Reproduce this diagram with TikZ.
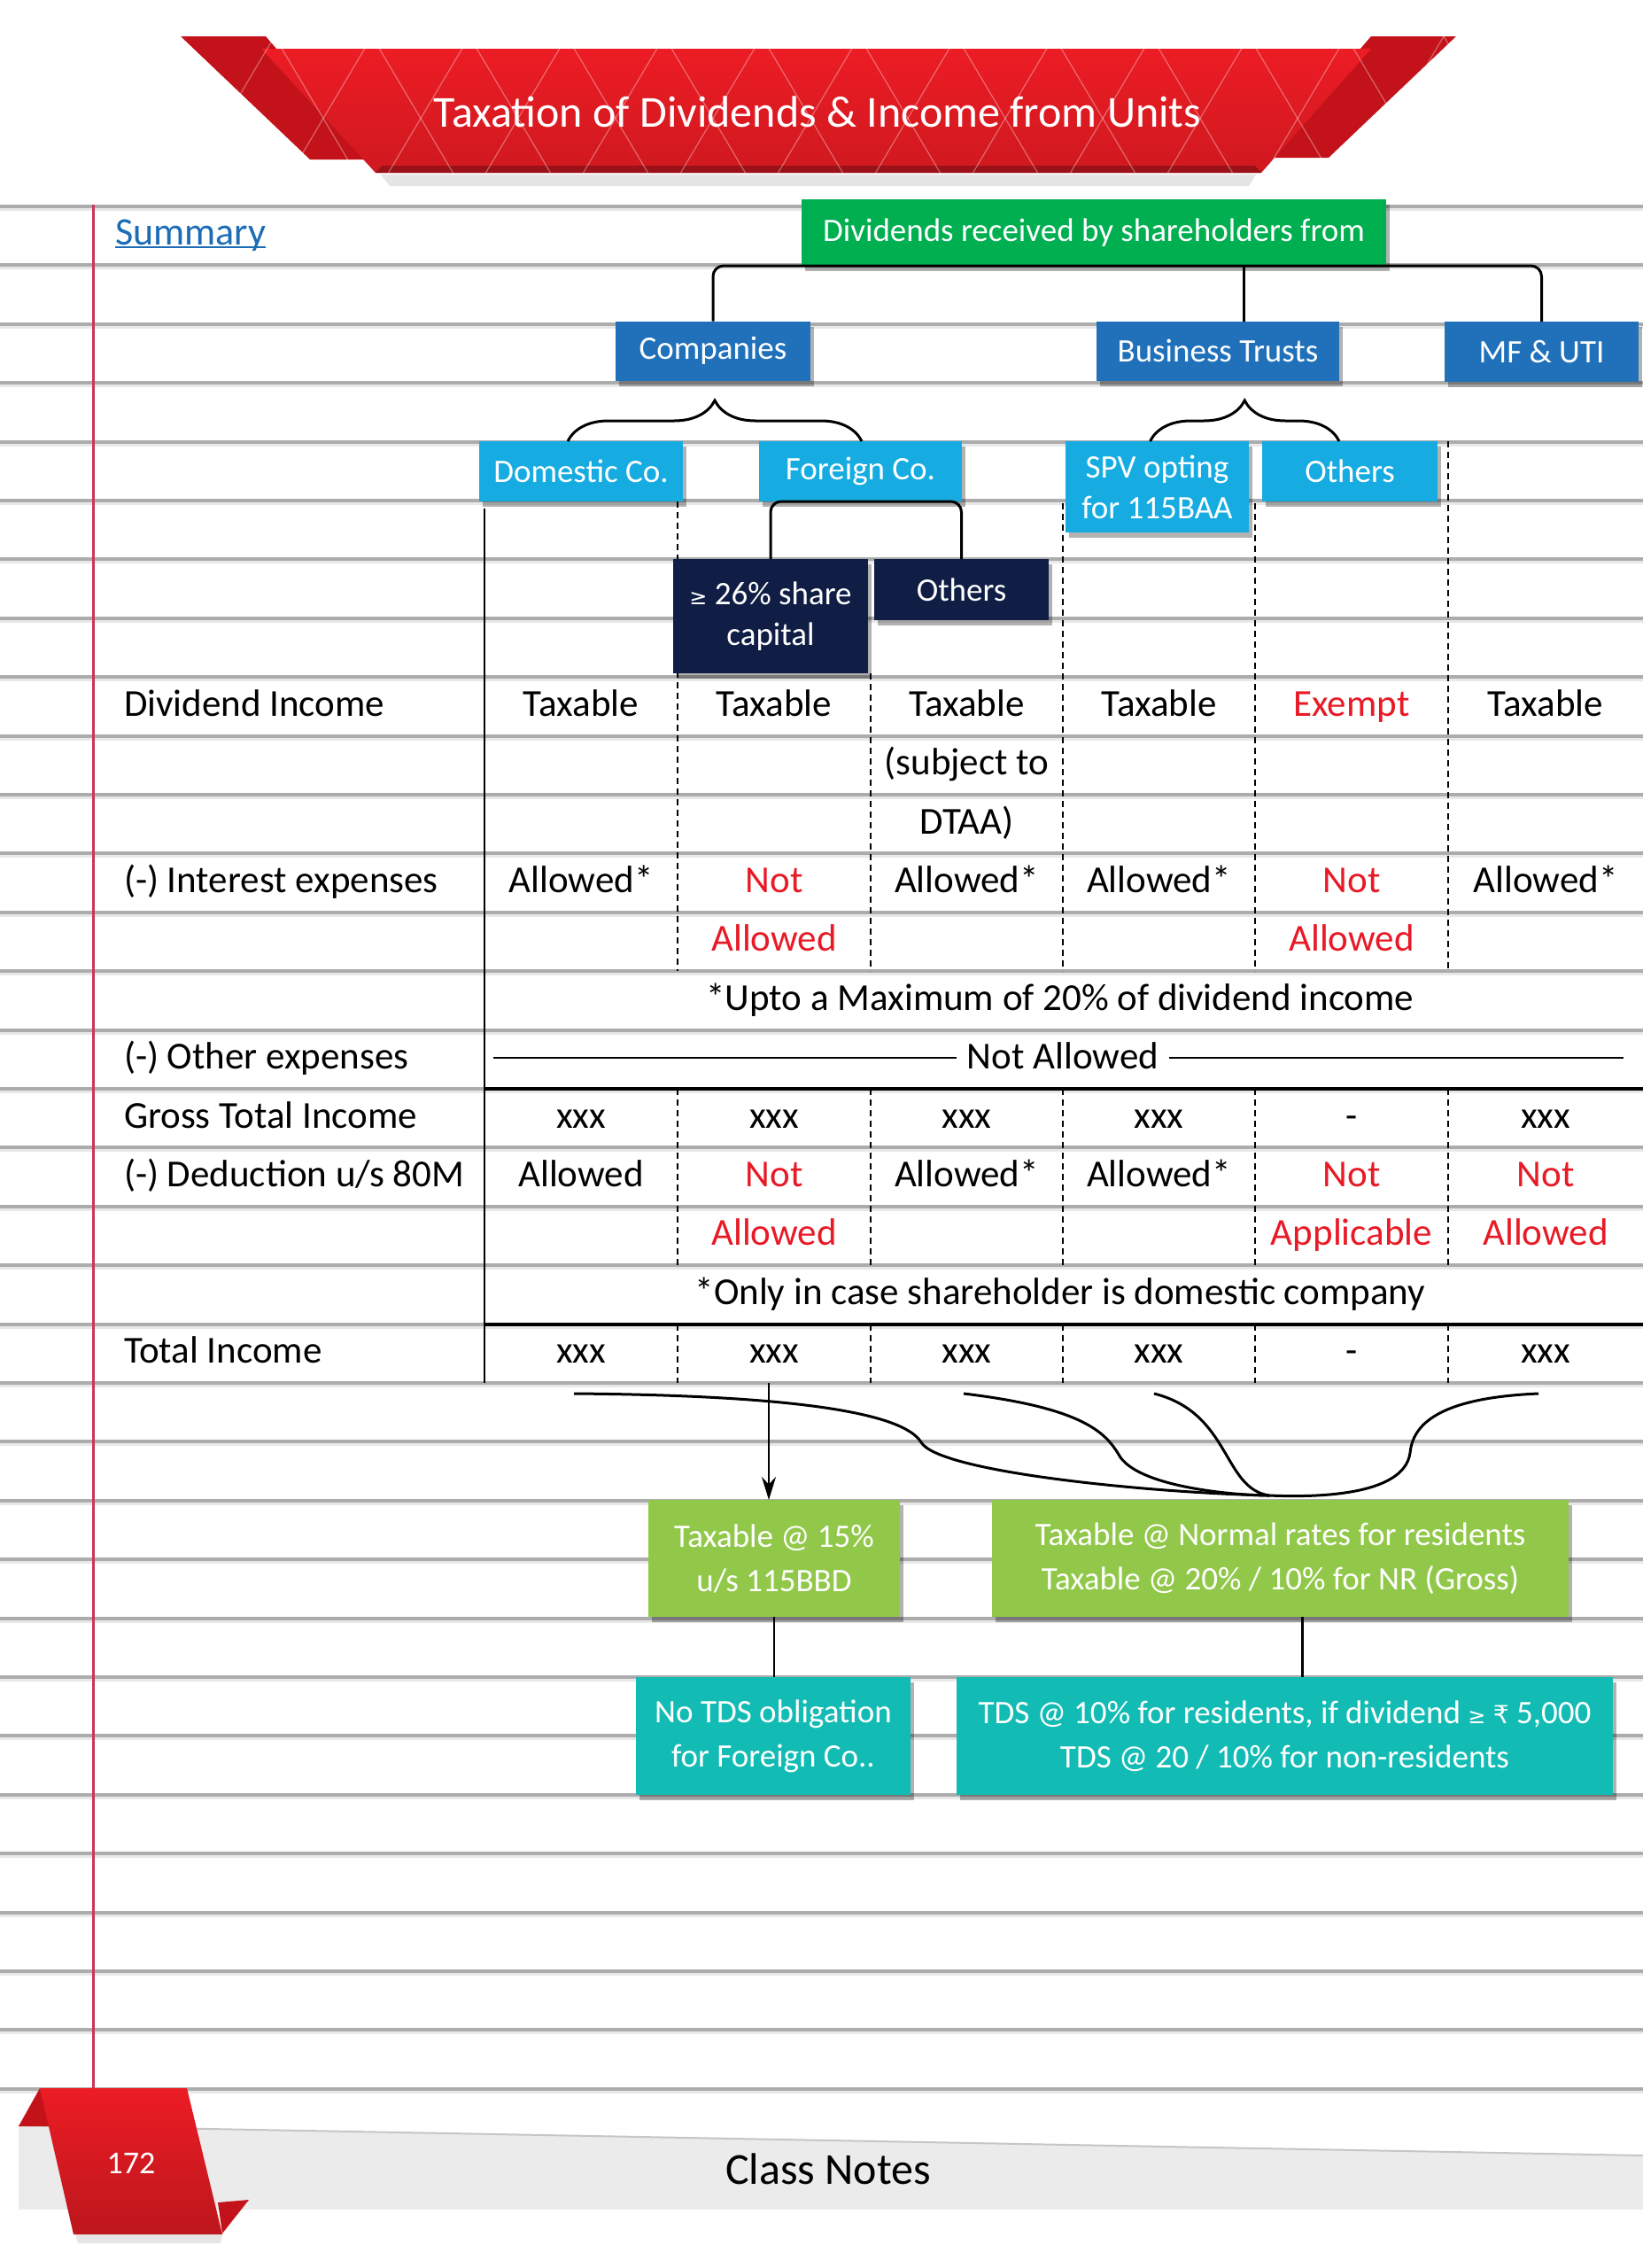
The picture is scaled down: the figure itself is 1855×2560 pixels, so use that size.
\documentclass[tikz,border=0pt]{standalone}
\usepackage{fontspec}
\setmainfont{Carlito}
\newfontfamily\dejavu{DejaVu Sans}
\usetikzlibrary{shadows,decorations.pathreplacing,arrows.meta,calc}
\definecolor{topgreen}{RGB}{0,175,80}
\definecolor{midblue}{RGB}{32,113,186}
\definecolor{lightblue}{RGB}{22,172,226}
\definecolor{navybox}{RGB}{16,30,70}
\definecolor{lgreen}{RGB}{146,200,74}
\definecolor{tealbox}{RGB}{18,188,180}
\definecolor{cellred}{RGB}{232,26,38}
\definecolor{rulegray}{RGB}{172,172,172}
\definecolor{marginred}{RGB}{200,55,90}
\definecolor{bannerred}{RGB}{236,28,36}
\definecolor{bannerdark}{RGB}{196,18,26}
\definecolor{sumblue}{RGB}{28,108,182}
\newcommand\boxfont{\fontsize{37}{46}\selectfont}
\newcommand\lowfont{\fontsize{37}{50}\selectfont}
\newcommand\cellfont{\fontsize{43}{50}\selectfont}
\newcommand\gesym{{\dejavu\fontsize{24}{30}\selectfont ≥}}
\begin{document}
\begin{tikzpicture}[x=1pt,y=-1pt,
  every node/.style={inner sep=0pt,outer sep=0pt},
  tbox/.style={fill=#1,text=white,align=center,font=\boxfont,
    drop shadow={shadow xshift=4pt,shadow yshift=-6pt,opacity=0.3,fill=black}},
  lbox/.style={tbox=#1,font=\lowfont},
  conn/.style={line width=3pt,rounded corners=12pt},
  thinconn/.style={line width=2.4pt},
  dline/.style={line width=1.8pt,dash pattern=on 7pt off 5pt},
  cell/.style={anchor=base,font=\cellfont},
  rcell/.style={cell,text=cellred},
  lab/.style={anchor=base west,font=\cellfont},
  bracestyle/.style={line width=3pt,decorate,decoration={brace,amplitude=46pt}}
]
\useasboundingbox (0,0) rectangle (1855,2560);
\fill[white] (0,0) rectangle (1855,2560);

% ruled lines
\foreach \k in {0,...,32}{
  \pgfmathsetmacro\yy{233+66.4*\k}
  \draw[rulegray,line width=4pt] (0,\yy) -- (1855,\yy);
  \draw[gray!18,line width=3pt] (0,\yy+3.5) -- (1855,\yy+3.5);
}
% margin line
\draw[marginred,line width=3pt] (105,231) -- (105,2357);

% title banner
\fill[black,opacity=0.10] (430,197) -- (1418,197) -- (1410,210) -- (440,210) -- cycle;
\fill[bannerdark] (204,41) -- (300,41) -- (420,180) -- (350,180) -- cycle;
\fill[bannerdark] (1644,41) -- (1548,41) -- (1430,178) -- (1500,178) -- cycle;
\shade[top color=bannerred,bottom color=bannerred!88!black] (295,55) -- (1548,55) -- (1424,195) -- (424,195) -- cycle;
\fill[bannerred!65!black] (431,187) -- (1417,187) -- (1424,195) -- (424,195) -- cycle;
\begin{scope}
  \clip (204,41) -- (1644,41) -- (1500,195) -- (350,195) -- cycle;
  \foreach \i in {0,...,14}{
    \draw[white,opacity=0.35,line width=1.2pt] ({200+110*\i},41) -- ++(-95,160);
    \draw[white,opacity=0.35,line width=1.2pt] ({200+110*\i},41) -- ++(95,160);
  }
\end{scope}
\node[text=white,font=\fontsize{50}{60}\selectfont] (title) at (923,126) {Taxation of Dividends \& Income from Units};

% summary
\node[lab,text=sumblue,font=\fontsize{44}{50}\selectfont] (summary) at (130,276) {Summary};
\draw[sumblue,line width=2.5pt] ($(summary.base west)+(0,3)$) -- ($(summary.base east)+(0,3)$);

% column lines
\draw[line width=2pt] (547,574) -- (547,1561);
\foreach \xx/\ys in {765/566,983/760,1200/568,1417/568,1635/498}{
  \draw[dline] (\xx,\ys) -- (\xx,1096);
  \draw[dline] (\xx,1229) -- (\xx,1428);
  \draw[dline] (\xx,1495) -- (\xx,1561);
}
\draw[line width=4pt] (547,1229) -- (1855,1229);
\draw[line width=4pt] (547,1495) -- (1855,1495);

% tree boxes
\node[tbox=topgreen,minimum width=660pt,minimum height=75pt] (green) at (1235,262.5) {Dividends received by shareholders from};
\node[tbox=midblue,minimum width=220pt,minimum height=67pt] (comp) at (805,396) {Companies};
\node[tbox=midblue,minimum width=274pt,minimum height=67pt] (bt) at (1375,396) {Business Trusts};
\node[tbox=midblue,minimum width=219pt,minimum height=68pt] (mf) at (1740.5,397) {MF \& UTI};
\node[tbox=lightblue,minimum width=230pt,minimum height=68pt] (dom) at (656,532) {Domestic Co.};
\node[tbox=lightblue,minimum width=229pt,minimum height=68pt] (for) at (971.5,532) {Foreign Co.};
\node[tbox=lightblue,minimum width=207pt,minimum height=103pt] (spv) at (1306.5,549.5) {SPV opting\\for 115BAA};
\node[tbox=lightblue,minimum width=198pt,minimum height=68pt] (obt) at (1524,532) {Others};
\node[tbox=navybox,minimum width=220pt,minimum height=129pt] (sh26) at (870,695.5) {\gesym\ 26\% share\\capital};
\node[tbox=navybox,minimum width=197pt,minimum height=69pt] (othd) at (1085.5,665.5) {Others};

% tree connectors
\draw[conn] (comp.north) |- (green.south) -| (mf.north);
\draw[conn] ([xshift=29pt]bt.north) -- ([xshift=29pt]bt.north |- green.south);
\draw[bracestyle] ([xshift=-15pt]dom.north) -- ([xshift=1.5pt]for.north);
\draw[bracestyle] ([xshift=-8pt]spv.north) -- ([xshift=-12pt]obt.north);
\draw[conn] (sh26.north) |- (for.south) -| (othd.north);

% table text
\node[lab] (l1) at (140,808.2) {Dividend Income};
\node[cell] (d1) at (656,808.2) {Taxable};
\node[cell] (d2) at (874,808.2) {Taxable};
\node[cell] (d3) at (1091.5,808.2) {Taxable};
\node[cell] (d4) at (1308.5,808.2) {Taxable};
\node[rcell] (d5) at (1526,808.2) {Exempt};
\node[cell] (d6) at (1745,808.2) {Taxable};
\node[cell] (d3b) at (1091.5,874.6) {(subject to};
\node[cell] (d3c) at (1091.5,941) {DTAA)};

\node[lab] (l2) at (140,1007.4) {(-) Interest expenses};
\node[cell] (i1) at (656,1007.4) {Allowed*};
\node[rcell] (i2) at (874,1007.4) {Not};
\node[cell] (i3) at (1091.5,1007.4) {Allowed*};
\node[cell] (i4) at (1308.5,1007.4) {Allowed*};
\node[rcell] (i5) at (1526,1007.4) {Not};
\node[cell] (i6) at (1745,1007.4) {Allowed*};
\node[rcell] (i2b) at (874,1073.8) {Allowed};
\node[rcell] (i5b) at (1526,1073.8) {Allowed};
\node[cell] (note1) at (1197,1140.2) {*Upto a Maximum of 20\% of dividend income};

\node[lab] (l3) at (140,1206.6) {(-) Other expenses};
\node[cell,inner xsep=12pt] (na) at (1200,1206.6) {Not Allowed};
\coordinate (nal) at (557,1194);
\coordinate (nar) at (1833,1194);
\draw[line width=2.2pt] (nal) -- (nal -| na.west);
\draw[line width=2.2pt] (nar -| na.east) -- (nar);

\node[lab] (l4) at (140,1273) {Gross Total Income};
\node[cell] (g1) at (656,1273) {xxx};
\node[cell] (g2) at (874,1273) {xxx};
\node[cell] (g3) at (1091.5,1273) {xxx};
\node[cell] (g4) at (1308.5,1273) {xxx};
\node[cell] (g5) at (1526,1273) {-};
\node[cell] (g6) at (1745,1273) {xxx};

\node[lab] (l5) at (140,1339.4) {(-) Deduction u/s 80M};
\node[cell] (e1) at (656,1339.4) {Allowed};
\node[rcell] (e2) at (874,1339.4) {Not};
\node[cell] (e3) at (1091.5,1339.4) {Allowed*};
\node[cell] (e4) at (1308.5,1339.4) {Allowed*};
\node[rcell] (e5) at (1526,1339.4) {Not};
\node[rcell] (e6) at (1745,1339.4) {Not};
\node[rcell] (e2b) at (874,1405.8) {Allowed};
\node[rcell] (e5b) at (1526,1405.8) {Applicable};
\node[rcell] (e6b) at (1745,1405.8) {Allowed};
\node[cell] (note2) at (1197,1472.2) {*Only in case shareholder is domestic company};

\node[lab] (l6) at (140,1538.6) {Total Income};
\node[cell] (t1) at (656,1538.6) {xxx};
\node[cell] (t2) at (874,1538.6) {xxx};
\node[cell] (t3) at (1091.5,1538.6) {xxx};
\node[cell] (t4) at (1308.5,1538.6) {xxx};
\node[cell] (t5) at (1526,1538.6) {-};
\node[cell] (t6) at (1745,1538.6) {xxx};

% bottom boxes
\node[lbox=lgreen,minimum width=284pt,minimum height=132pt] (sg1) at (874,1759) {Taxable @ 15\%\\u/s 115BBD};
\node[lbox=lgreen,minimum width=651pt,minimum height=132pt] (sg2) at (1445.5,1759) {Taxable @ Normal rates for residents\\Taxable @ 20\% / 10\% for NR (Gross)};
\node[lbox=tealbox,minimum width=310pt,minimum height=133pt] (tl1) at (873,1959.5) {No TDS obligation\\for Foreign Co..};
\node[lbox=tealbox,minimum width=741pt,minimum height=133pt] (tl2) at (1450.5,1959.5) {TDS @ 10\% for residents, if dividend \gesym\ {\dejavu\fontsize{28}{30}\selectfont ₹} 5,000\\TDS @ 20 / 10\% for non-residents};

% bottom connectors
\coordinate (cs1) at (648,1573);
\coordinate (cs2) at (1088,1573);
\coordinate (cs3) at (1303,1573);
\coordinate (cs4) at (1737,1573);
\coordinate (cm) at (1433,1688);
\draw[line width=3pt] (cs1) .. controls (900,1575) and (1020,1595) .. (1040,1628) .. controls (1060,1662) and (1300,1685) .. (cm);
\draw[line width=3pt] (cs2) .. controls (1230,1590) and (1250,1620) .. (1265,1645) .. controls (1290,1680) and (1400,1688) .. (cm);
\draw[line width=3pt] (cs3) .. controls (1390,1595) and (1380,1680) .. (cm);
\draw[line width=3pt] (cs4) .. controls (1620,1578) and (1595,1610) .. (1592,1640) .. controls (1585,1690) and (1480,1690) .. (cm);
\coordinate (a0) at (868,1561);
\draw[line width=2.4pt,-{Stealth[length=26pt,width=16pt]}] (a0) -- (a0 |- sg1.north);
\draw[thinconn] (sg1.south) -- (sg1.south |- tl1.north);
\draw[thinconn] ([xshift=25pt]sg2.south) -- ([xshift=25pt]sg2.south |- tl2.north);

% footer
\fill[black,opacity=0.08] (21,2485) -- (1855,2485) -- (1855,2494) -- (21,2494) -- cycle;
\fill[gray!16] (21,2399) -- (1855,2433) -- (1855,2485) -- (21,2485) -- cycle;
\draw[gray!45,line width=2pt] (21,2399) -- (1855,2433);
\fill[bannerdark] (21,2400) -- (45,2357) -- (58,2400) -- cycle;
\fill[bannerdark] (246,2486) -- (281,2483) -- (251,2521) -- cycle;
\fill[black,opacity=0.10] (85,2522) -- (251,2522) -- (249,2532) -- (88,2532) -- cycle;
\shade[top color=bannerred,bottom color=bannerred!80!black] (45,2357) -- (211,2357) -- (251,2522) -- (83,2522) -- cycle;
\node[text=white,font=\fontsize{36}{40}\selectfont] (pageno) at (148,2442) {172};
\node[font=\fontsize{50}{56}\selectfont] (classnotes) at (935,2448) {Class Notes};
\end{tikzpicture}
\end{document}
